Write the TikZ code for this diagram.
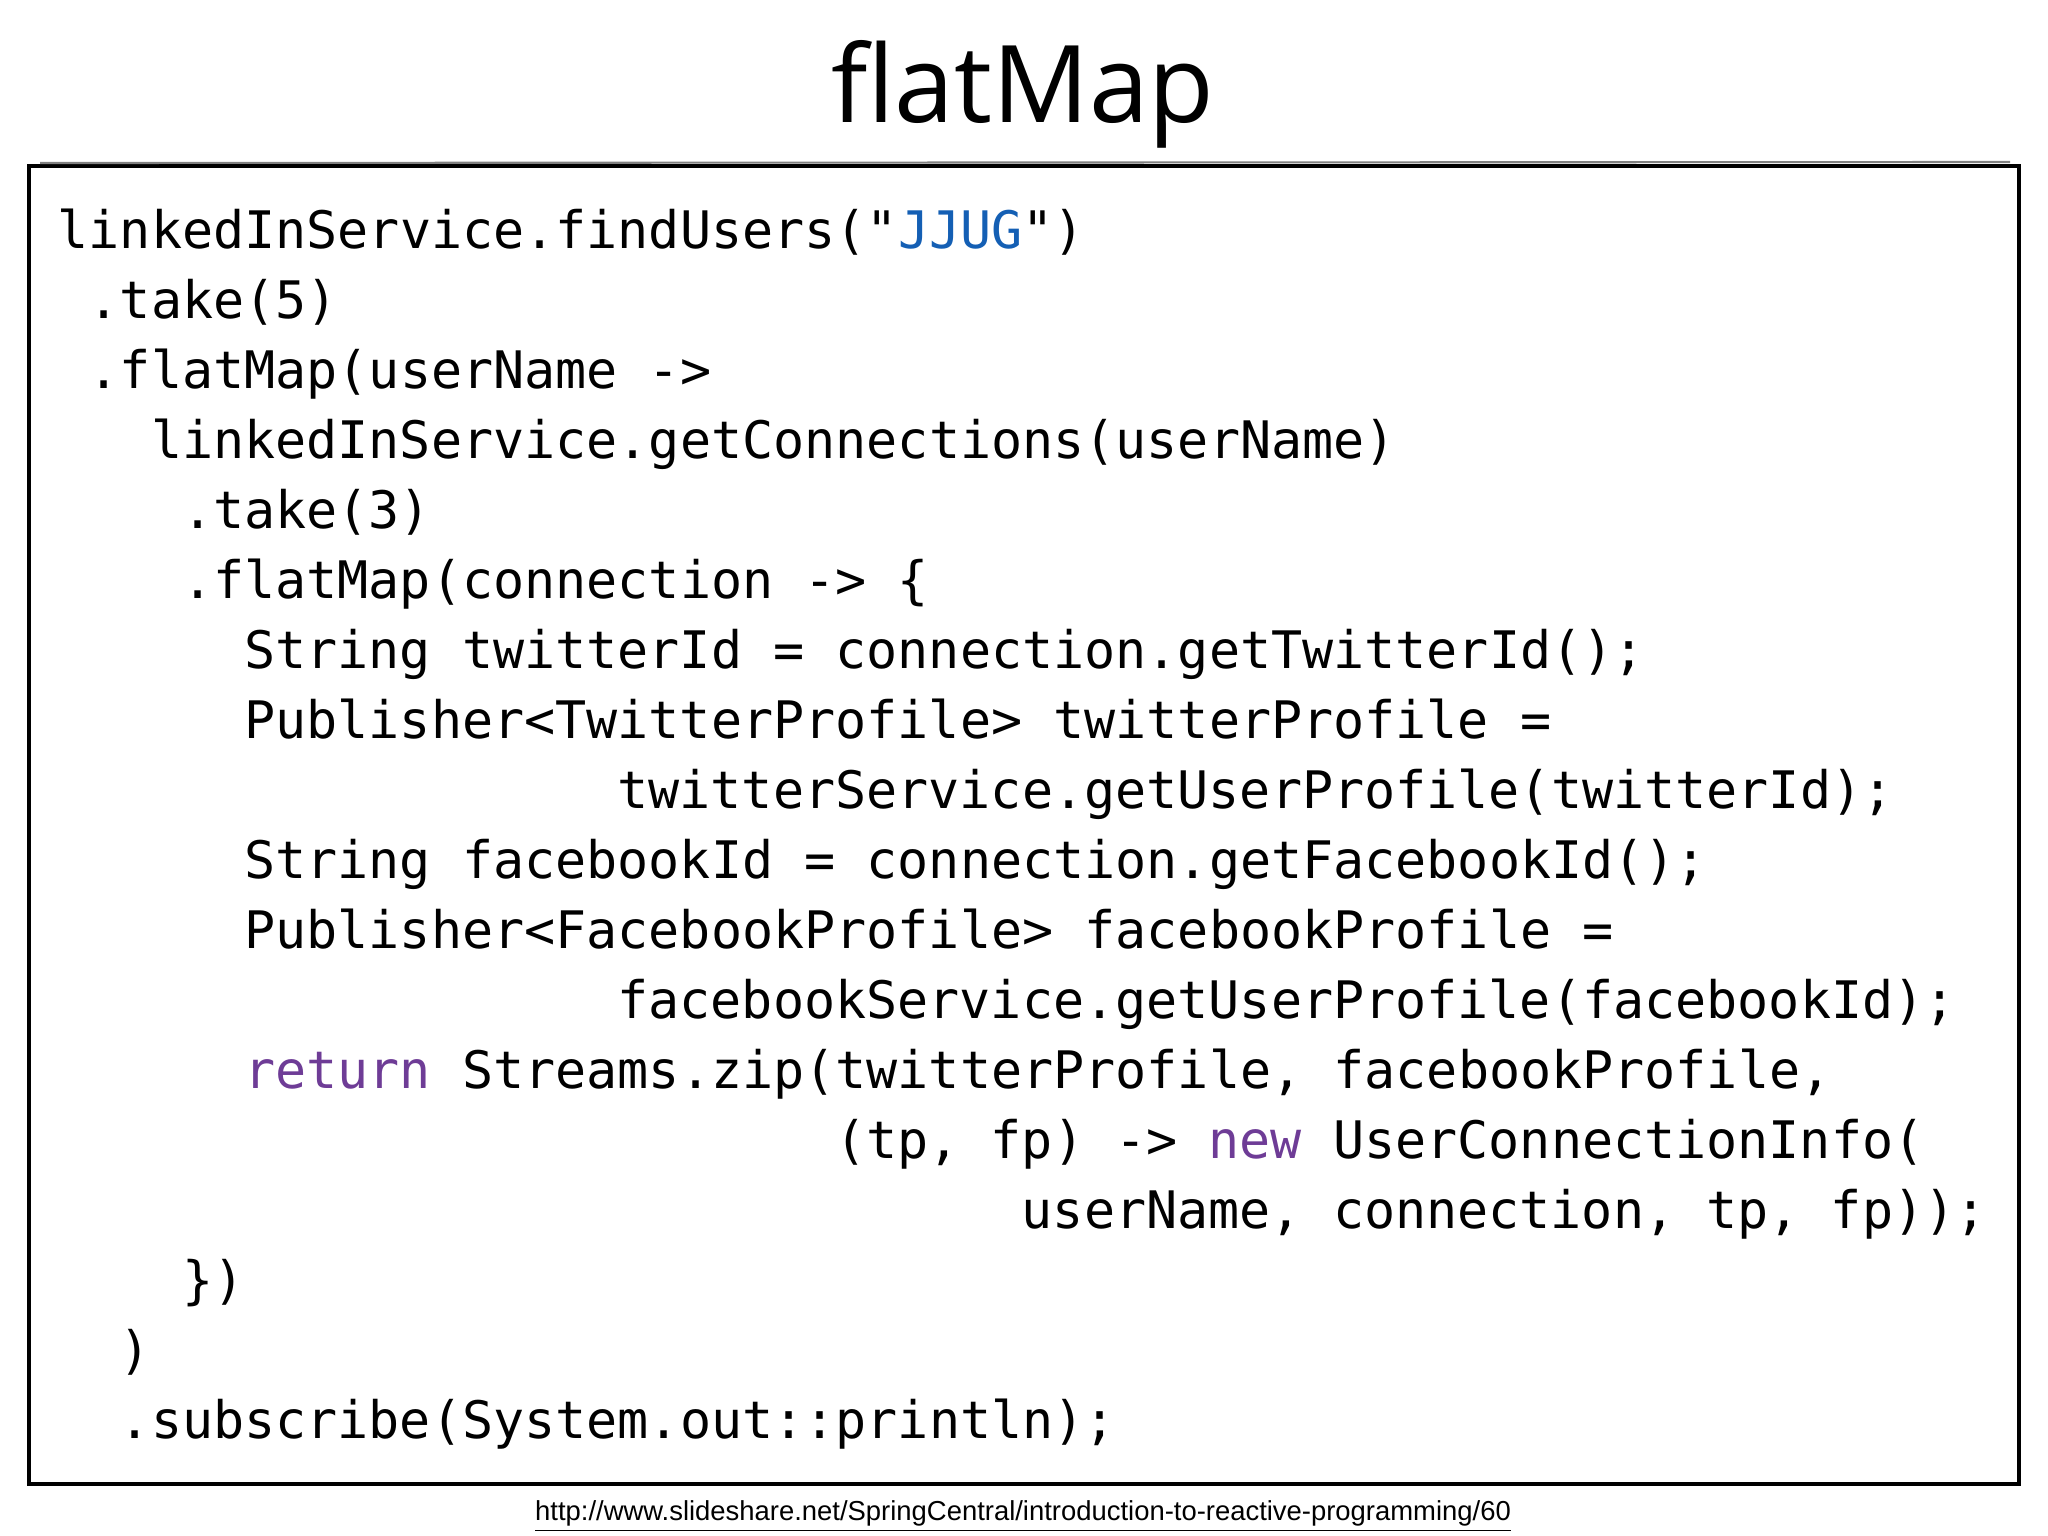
\documentclass[tikz,border=0pt]{standalone}
\usepackage{fontspec}
\setmonofont{DejaVu Sans Mono}
\newfontfamily\titlefont{Open Sans}
\newfontfamily\urlfont{Liberation Sans}
\definecolor{strblue}{RGB}{20,95,180}
\definecolor{kwpurple}{RGB}{110,60,150}
\tikzset{codeline/.style={anchor=base west,inner sep=0pt,font=\ttfamily\fontsize{14.7}{17}\selectfont}}
\newcommand{\kw}[1]{\textcolor{kwpurple}{#1}}
\begin{document}
\begin{tikzpicture}[x=0.01cm,y=-0.01cm]
\useasboundingbox (0,0) rectangle (2048,1536);
\node[inner sep=0pt,anchor=base,font=\titlefont\fontsize{30.5}{36}\selectfont] (title) at (1023,122) {flatMap};
\draw[line width=1.4pt] (29,166) -- (2019,166) -- (2019,1484) -- (29,1484) -- cycle;
\draw[line width=0.6pt,gray] (40,163) -- (2010,162);
\def\cx#1{57+#1*31.1}
\node[codeline] (l1) at ({\cx{0}},248) {linkedInService.findUsers("\textcolor{strblue}{JJUG}")};
\node[codeline] (l2) at ({\cx{1}},318) {.take(5)};
\node[codeline] (l3) at ({\cx{1}},388) {.flatMap(userName ->};
\node[codeline] (l4) at ({\cx{3}},458) {linkedInService.getConnections(userName)};
\node[codeline] (l5) at ({\cx{4}},528) {.take(3)};
\node[codeline] (l6) at ({\cx{4}},598) {.flatMap(connection -> \{};
\node[codeline] (l7) at ({\cx{6}},668) {String twitterId = connection.getTwitterId();};
\node[codeline] (l8) at ({\cx{6}},738) {Publisher<TwitterProfile> twitterProfile =};
\node[codeline] (l9) at ({\cx{18}},808) {twitterService.getUserProfile(twitterId);};
\node[codeline] (l10) at ({\cx{6}},878) {String facebookId = connection.getFacebookId();};
\node[codeline] (l11) at ({\cx{6}},948) {Publisher<FacebookProfile> facebookProfile =};
\node[codeline] (l12) at ({\cx{18}},1018) {facebookService.getUserProfile(facebookId);};
\node[codeline] (l13) at ({\cx{6}},1088) {\kw{return} Streams.zip(twitterProfile, facebookProfile,};
\node[codeline] (l14) at ({\cx{25}},1158) {(tp, fp) -> \kw{new} UserConnectionInfo(};
\node[codeline] (l15) at ({\cx{31}},1228) {userName, connection, tp, fp));};
\node[codeline] (l16) at ({\cx{4}},1298) {\})};
\node[codeline] (l17) at ({\cx{2}},1368) {)};
\node[codeline] (l18) at ({\cx{2}},1438) {.subscribe(System.out::println);};
\node[inner sep=0pt,anchor=base,font=\urlfont\fontsize{7.8}{10}\selectfont] (url) at (1023,1520) {\underline{http://www.slideshare.net/SpringCentral/introduction-to-reactive-programming/60}};
\end{tikzpicture}
\end{document}
